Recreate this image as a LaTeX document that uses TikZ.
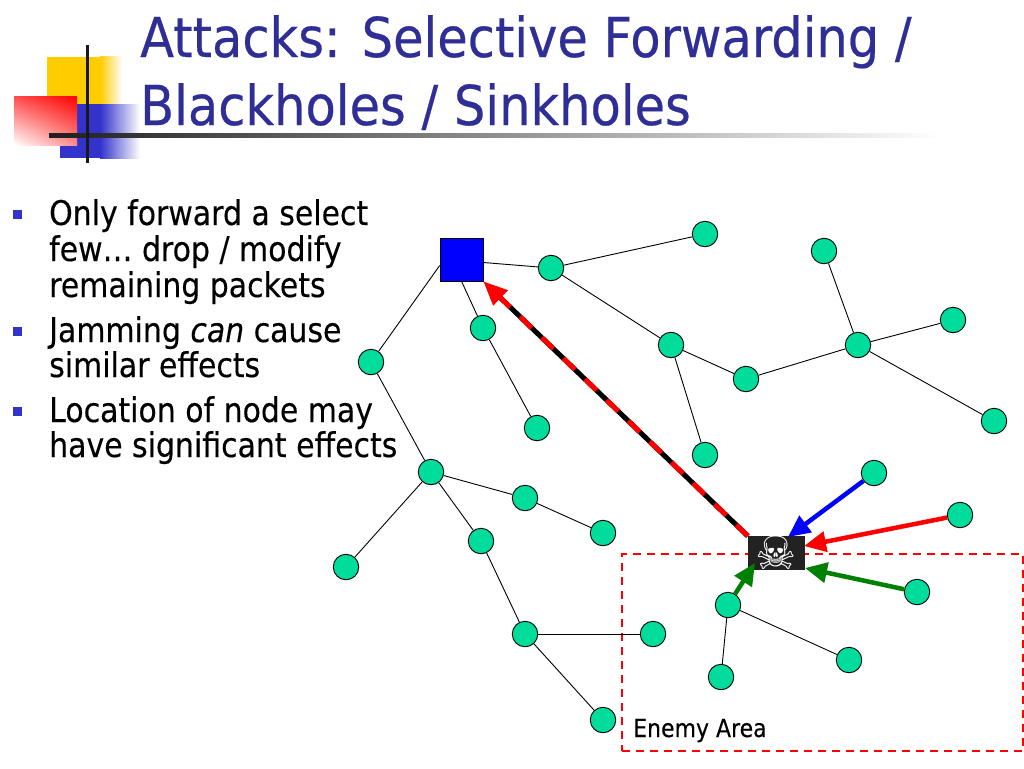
\documentclass[tikz,border=0pt]{standalone}
\usepackage{fontspec}
\setmainfont{DejaVu Sans}[FakeStretch=0.88,FakeBold=0.3]
\newfontfamily\titlefont{DejaVu Sans}[FakeStretch=0.9,FakeBold=0.4]
\newfontfamily\symfont{DejaVu Sans}
\usetikzlibrary{arrows.meta,calc,shadings}
\definecolor{ttl}{RGB}{46,46,150}
\definecolor{bul}{RGB}{51,51,204}
\definecolor{nodeg}{RGB}{0,220,155}
\definecolor{dgreen}{RGB}{0,128,0}
\definecolor{sk}{RGB}{34,34,34}
\definecolor{lyel}{RGB}{255,204,0}
\definecolor{lblu}{RGB}{51,51,204}
\begin{document}
\begin{tikzpicture}[x=1pt,y=-1pt,
  sensor/.style={circle,draw=black,line width=0.9pt,fill=nodeg,minimum size=25.5pt,inner sep=0pt},
  link/.style={draw=black,line width=0.9pt},
  atk/.style={line width=4.5pt,-{Triangle[length=22pt,width=20pt]}},
  bullet/.style={fill=bul,minimum size=9pt,inner sep=0pt},
  btext/.style={anchor=base west,inner sep=0pt,font=\fontsize{34}{36}\selectfont},
  ttext/.style={anchor=base west,inner sep=0pt,text=ttl,font=\titlefont\fontsize{55}{60}\selectfont}]
\useasboundingbox (0,0) rectangle (1024,768);
\fill[white] (0,0) rectangle (1024,768);
% logo
\fill[lyel] (47,57) rectangle (100,115);
\shade[left color=lyel,right color=white] (100,57) rectangle (122,105);
\fill[lblu] (60,104) rectangle (100,158);
\shade[left color=lblu,right color=white] (100,104) rectangle (140,158);
\shade[upper right=red,upper left=red!70,lower right=red!45,lower left=white] (14,96) rectangle (77,145);
\shade[left color=black!88,right color=white] (49,133) rectangle (940,137);
\draw[line width=3pt,black!90] (87,45) -- (87,163);
% title
\node[ttext] (t1) at (140,57) {Attacks: Selective Forwarding /};
\node[ttext] (t2) at (140,125) {Blackholes / Sinkholes};
% bullets
\node[bullet] (b1) at (17.5,214.5) {};
\node[bullet] (b2) at (17.5,331.5) {};
\node[bullet] (b3) at (17.5,411.5) {};
\node[btext] (l1) at (49,225) {Only forward a select};
\node[btext] (l2) at (49,261) {few… drop / modify};
\node[btext] (l3) at (49,297) {remaining packets};
\node[btext] (l4) at (49,342) {Jamming \textit{can} cause};
\node[btext] (l5) at (49,377) {similar effects};
\node[btext] (l6) at (49,422) {Location of node may};
\node[btext] (l7) at (49,457) {have significant effects};
% enemy area
\node[draw=red,line width=2pt,dash pattern=on 8pt off 6pt,minimum width=401pt,minimum height=197pt,anchor=north west,inner sep=0pt] (enemy) at (621,553) {};
\node[anchor=base west,inner sep=0pt,font=\fontsize{25}{27}\selectfont] (elabel) at (633,737) {Enemy Area};
% sensor nodes
\node[sensor] (n1) at (705,234) {};
\node[sensor] (n2) at (551,268) {};
\node[sensor] (n3) at (824,251) {};
\node[sensor] (n4) at (483,328) {};
\node[sensor] (n5) at (371,362) {};
\node[sensor] (n6) at (671,345) {};
\node[sensor] (n7) at (858,345) {};
\node[sensor] (n8) at (953,320) {};
\node[sensor] (n9) at (746,379) {};
\node[sensor] (n10) at (537,428) {};
\node[sensor] (n11) at (994,421) {};
\node[sensor] (n12) at (705,455) {};
\node[sensor] (n13) at (431,472) {};
\node[sensor] (n14) at (874,473) {};
\node[sensor] (n15) at (525,498) {};
\node[sensor] (n16) at (603,533) {};
\node[sensor] (n17) at (481,541) {};
\node[sensor] (n18) at (960,515) {};
\node[sensor] (n19) at (346,567) {};
\node[sensor] (n20) at (917,592) {};
\node[sensor] (n21) at (728,605) {};
\node[sensor] (n22) at (525,634) {};
\node[sensor] (n23) at (653,634) {};
\node[sensor] (n24) at (849,660) {};
\node[sensor] (n25) at (721,677) {};
\node[sensor] (n26) at (603,720) {};
% base station and attacker
\node[draw=black,line width=0.6pt,fill=blue,minimum size=43pt,inner sep=0pt] (sq) at (461.5,259.5) {};
\node[fill=sk,minimum width=57pt,minimum height=32pt,inner sep=0pt,text=white,font=\symfont\fontsize{46}{46}\selectfont] (skull) at (776.5,553) {☠};
% links
\draw[link] ($(sq.west)+(0,6)$) -- (n5);
\draw[link] ($(sq.east)+(0,3)$) -- (n2);
\draw[link] (sq.south) -- (n4);
\draw[link] (n4) -- (n10);
\draw[link] (n2) -- (n1);
\draw[link] (n2) -- (n6);
\draw[link] (n6) -- (n9);
\draw[link] (n6) -- (n12);
\draw[link] (n9) -- (n7);
\draw[link] (n7) -- (n3);
\draw[link] (n7) -- (n8);
\draw[link] (n7) -- (n11);
\draw[link] (n5) -- (n13);
\draw[link] (n13) -- (n19);
\draw[link] (n13) -- (n15);
\draw[link] (n15) -- (n16);
\draw[link] (n13) -- (n17);
\draw[link] (n17) -- (n22);
\draw[link] (n22) -- (n23);
\draw[link] (n22) -- (n26);
\draw[link] (n21) -- (n24);
\draw[link] (n21) -- (n25);
% attack arrows
\coordinate (tb) at (788,537);
\coordinate (tr) at (804,546);
\coordinate (tg1) at (805,568);
\coordinate (tg2) at (755,563);
\draw[atk,blue] (n14) -- (tb);
\draw[atk,red] (n18) -- (tr);
\draw[atk,dgreen] (n20) -- (tg1);
\draw[atk,dgreen] (n21) -- (tg2);
% sinkhole path
\draw[line width=5pt,black,shorten >=12pt] (skull.north west) -- (sq.south east);
\draw[line width=5pt,red,dash pattern=on 16pt off 14pt,-{Triangle[length=24pt,width=20pt]}] (skull.north west) -- (sq.south east);
\end{tikzpicture}
\end{document}
